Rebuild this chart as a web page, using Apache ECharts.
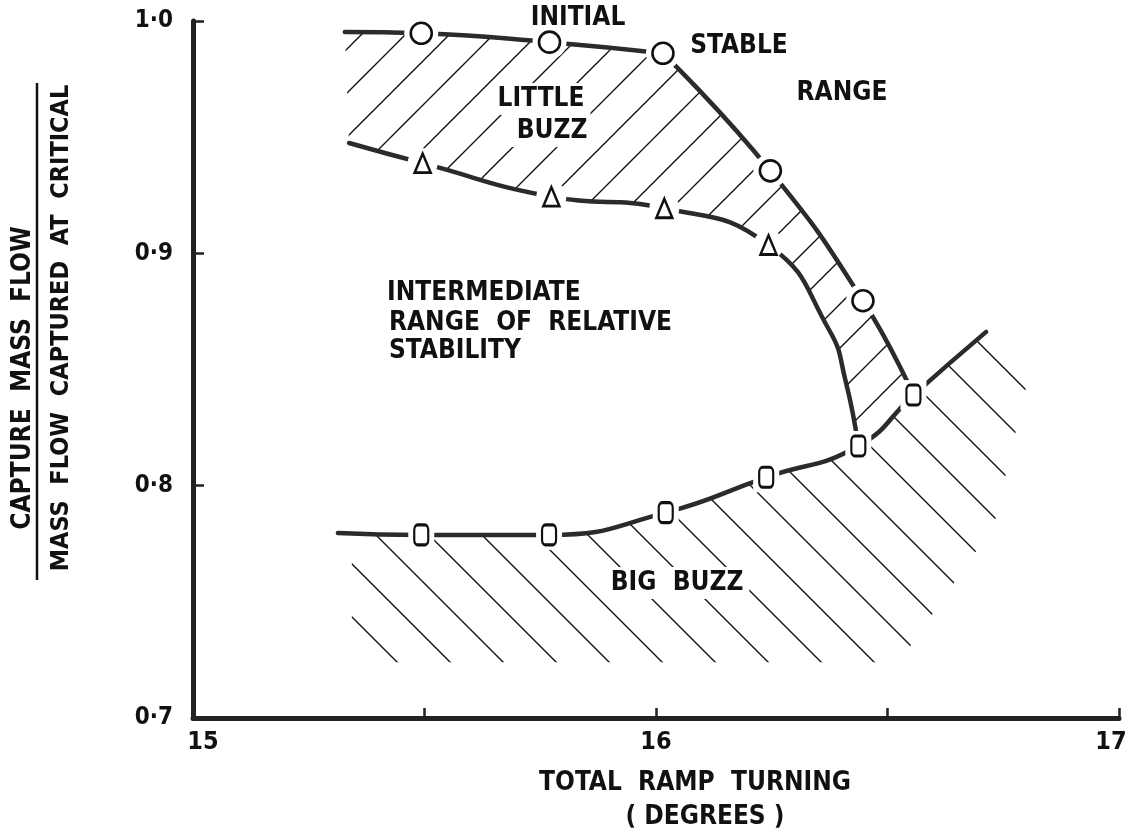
<!DOCTYPE html>
<html>
<head>
<meta charset="utf-8">
<script src="https://cdn.jsdelivr.net/npm/echarts@6/dist/echarts.min.js"></script>
<style>
html, body { margin: 0; padding: 0; background: #fff; }
#chart { width: 1140px; height: 834px; }
</style>
</head>
<body>
<div id="chart"></div>
<script>
// markers
const circleX = [15.493, 15.770, 16.015, 16.247, 16.447]
const circleY = [0.9947, 0.9909, 0.9861, 0.9355, 0.8796]
const triangleX = [15.496, 15.774, 16.018, 16.243]
const triangleY = [0.9388, 0.9244, 0.9194, 0.9036]
const squareX = [15.493, 15.769, 16.021, 16.238, 16.437, 16.556]
const squareY = [0.7788, 0.7788, 0.7884, 0.8036, 0.8171, 0.8390]

// boundary curves as drawn (line ends and the unmarked bend)
// upper edge of the stable range: flat run, then the drop down to the big buzz line
const stableFlatX = [15.328, 15.493, 15.770, 16.015]
const stableFlatY = [0.9953, 0.9947, 0.9909, 0.9861]
const stableDropX = [16.015, 16.247, 16.447, 16.556]
const stableDropY = [0.9861, 0.9355, 0.8796, 0.8390]
const littleCurveX = [15.337, 15.496, 15.774, 16.018, 16.243, 16.374, 16.409, 16.437]
const littleCurveY = [0.9475, 0.9388, 0.9244, 0.9194, 0.9036, 0.8670, 0.8455, 0.8171]
const bigCurveX = [15.313, 15.493, 15.769, 16.021, 16.238, 16.437, 16.556, 16.713]
const bigCurveY = [0.7796, 0.7788, 0.7788, 0.7884, 0.8036, 0.8171, 0.8390, 0.8662]
// outer edge of the big buzz hatching
const bigEdgeX = [16.800, 16.730, 16.525, 15.343, 15.343]
const bigEdgeY = [0.843, 0.783, 0.724, 0.724, 0.7788]

const xTicks = [15, 16, 17]
const FONT = '"DejaVu Sans Condensed", "DejaVu Sans", sans-serif'
const SMOOTH = 0.5

const zip = (xs, ys) => xs.map((x, i) => [x, ys[i]])

// hatch tile, dir '/' or '\'
function hatch(size, dir) {
    const c = document.createElement('canvas')
    c.width = c.height = size
    const g = c.getContext('2d')
    g.strokeStyle = '#111'
    g.lineWidth = 1.4
    g.beginPath()
    if (dir === '/') {
        g.moveTo(-2, size + 2); g.lineTo(size + 2, -2)
        g.moveTo(-2, 2); g.lineTo(2, -2)
        g.moveTo(size - 2, size + 2); g.lineTo(size + 2, size - 2)
    } else {
        g.moveTo(-2, -2); g.lineTo(size + 2, size + 2)
        g.moveTo(size - 2, -2); g.lineTo(size + 2, 2)
        g.moveTo(-2, size - 2); g.lineTo(2, size + 2)
    }
    g.stroke()
    return { image: c, repeat: 'repeat' }
}

// same bezier control points as the line series smoothing
function smoothSegs(pts, smooth) {
    const segs = []
    let cp0 = pts[0]
    for (let i = 1; i < pts.length; i++) {
        const [x, y] = pts[i]
        const [px, py] = pts[i - 1]
        let cp1, next0
        if (i === pts.length - 1) {
            cp1 = [x, y]
        } else {
            const [nx, ny] = pts[i + 1]
            let vx = nx - px, vy = ny - py
            const l0 = Math.hypot(x - px, y - py)
            const l1 = Math.hypot(nx - x, ny - y)
            const r = l1 / (l0 + l1)
            let ncx = x + vx * smooth * r, ncy = y + vy * smooth * r
            ncx = Math.max(Math.min(ncx, Math.max(nx, x)), Math.min(nx, x))
            ncy = Math.max(Math.min(ncy, Math.max(ny, y)), Math.min(ny, y))
            vx = ncx - x; vy = ncy - y
            let cx = x - vx * l0 / l1, cy = y - vy * l0 / l1
            cx = Math.max(Math.min(cx, Math.max(px, x)), Math.min(px, x))
            cy = Math.max(Math.min(cy, Math.max(py, y)), Math.min(py, y))
            cp1 = [cx, cy]
            next0 = [x + (x - cx) * l1 / l0, y + (y - cy) * l1 / l0]
        }
        segs.push([pts[i - 1], cp0, cp1, [x, y]])
        cp0 = next0
    }
    return segs
}
const segPath = segs => segs.map(s => `C${s[1][0]},${s[1][1]} ${s[2][0]},${s[2][1]} ${s[3][0]},${s[3][1]}`).join(' ')
const revSegs = segs => segs.slice().reverse().map(s => [s[3], s[2], s[1], s[0]])
const pxSegs = (api, xs, ys) => smoothSegs(zip(xs, ys).map(p => api.coord(p)), SMOOTH)

function littleBuzzPath(api) {
    const top = pxSegs(api, stableFlatX, stableFlatY).concat(pxSegs(api, stableDropX, stableDropY))
    const low = revSegs(pxSegs(api, littleCurveX, littleCurveY))
    const s = top[0][0], e = low[0][0]
    return `M${s[0]},${s[1]} ${segPath(top)} L${e[0]},${e[1]} ${segPath(low)} Z`
}

function bigBuzzPath(api) {
    const top = pxSegs(api, bigCurveX, bigCurveY)
    const edge = zip(bigEdgeX, bigEdgeY).map(p => api.coord(p))
    const s = top[0][0]
    return `M${s[0]},${s[1]} ${segPath(top)} ` + edge.map(p => `L${p[0]},${p[1]}`).join(' ') + ' Z'
}

const hatchSeries = (build, pattern) => ({
    type: 'custom',
    silent: true,
    clip: false,
    z: 1,
    data: [[15, 0.7]],
    renderItem: (params, api) => ({
        type: 'path',
        shape: { pathData: build(api) },
        style: { fill: pattern, stroke: null }
    })
})

const curve = (xs, ys) => ({
    type: 'line',
    data: zip(xs, ys),
    smooth: SMOOTH,
    symbol: 'none',
    silent: true,
    z: 3,
    lineStyle: { color: '#2b2b2b', width: 4.5, cap: 'round' }
})

// white halo under each marker leaves the gap where the drawn line stops
const marks = (xs, ys, symbol, size, halo) => [
    {
        type: 'scatter', data: zip(xs, ys), symbol: halo[0], symbolSize: halo[1],
        silent: true, z: 4, itemStyle: { color: '#fff', opacity: 1 }
    },
    {
        type: 'scatter', data: zip(xs, ys), symbol, symbolSize: size,
        silent: true, z: 5,
        itemStyle: { color: '#fff', borderColor: '#111', borderWidth: 2.6, opacity: 1 }
    }
]

const txt = (text, x, y, opt = {}) => ({
    type: 'text', x, y, z: 100, rotation: opt.rotation || 0,
    style: {
        text, fill: '#111', fontFamily: FONT, fontWeight: 'bold', fontSize: opt.size || 26,
        textAlign: opt.align || 'center', textVerticalAlign: 'middle',
        backgroundColor: opt.bg ? '#fff' : null, padding: opt.bg ? [3, 6] : 0
    }
})

const chart = echarts.init(document.getElementById('chart'))
const option = {
    animation: false,
    backgroundColor: '#fff',
    grid: { left: 193, right: 21, top: 21, bottom: 116 },
    xAxis: {
        type: 'value', min: 15, max: 17, interval: 0.5,
        axisLine: { lineStyle: { color: '#222', width: 5 } },
        axisTick: { inside: true, length: 10, lineStyle: { color: '#222', width: 2.5 } },
        splitLine: { show: false },
        axisLabel: {
            margin: 12, color: '#111', fontFamily: FONT, fontWeight: 'bold', fontSize: 25,
            formatter: v => v === 15 ? '{a|15}' : v === 17 ? '{b|17}' : (xTicks.includes(v) ? String(v) : ''),
            rich: {
                a: { padding: [0, 0, 0, 20], fontFamily: FONT, fontWeight: 'bold', fontSize: 25, color: '#111' },
                b: { padding: [0, 16, 0, 0], fontFamily: FONT, fontWeight: 'bold', fontSize: 25, color: '#111' }
            }
        }
    },
    yAxis: {
        type: 'value', min: 0.7, max: 1.0, interval: 0.1,
        axisLine: { lineStyle: { color: '#222', width: 5 } },
        axisTick: { inside: true, length: 11, lineStyle: { color: '#222', width: 2.5 } },
        splitLine: { show: false },
        axisLabel: {
            margin: 20, color: '#111', fontFamily: FONT, fontWeight: 'bold', fontSize: 24,
            formatter: v => v.toFixed(1).replace('.', '·')
        }
    },
    series: [
        hatchSeries(littleBuzzPath, hatch(44, '/')),
        hatchSeries(bigBuzzPath, hatch(53, '\\')),
        curve(stableFlatX, stableFlatY),
        curve(stableDropX, stableDropY),
        curve(littleCurveX, littleCurveY),
        curve(bigCurveX, bigCurveY),
        ...marks(circleX, circleY, 'circle', 21, ['circle', 34]),
        ...marks(triangleX, triangleY, 'triangle', [16, 19], ['circle', 30]),
        ...marks(squareX, squareY, 'roundRect', [14, 20], ['rect', [26, 30]])
    ],
    graphic: [
        txt('INITIAL', 578, 18),
        txt('STABLE', 739, 46),
        txt('RANGE', 842, 93),
        txt('LITTLE', 541, 99, { bg: true }),
        txt('BUZZ', 552, 131, { bg: true }),
        txt('INTERMEDIATE', 387, 293, { align: 'left' }),
        txt('RANGE  OF  RELATIVE', 389, 323, { align: 'left' }),
        txt('STABILITY', 389, 351, { align: 'left' }),
        txt('BIG  BUZZ', 677, 583, { bg: true }),
        txt('TOTAL  RAMP  TURNING', 695, 783),
        txt('( DEGREES )', 705, 817),
        txt('CAPTURE  MASS  FLOW', 23, 378, { rotation: Math.PI / 2 }),
        txt('MASS  FLOW  CAPTURED  AT  CRITICAL', 61, 328, { rotation: Math.PI / 2, size: 25 }),
        {
            type: 'line', z: 100,
            shape: { x1: 37, y1: 83, x2: 37, y2: 580 },
            style: { stroke: '#111', lineWidth: 2.5 }
        }
    ]
}
chart.setOption(option)
</script>
</body>
</html>
